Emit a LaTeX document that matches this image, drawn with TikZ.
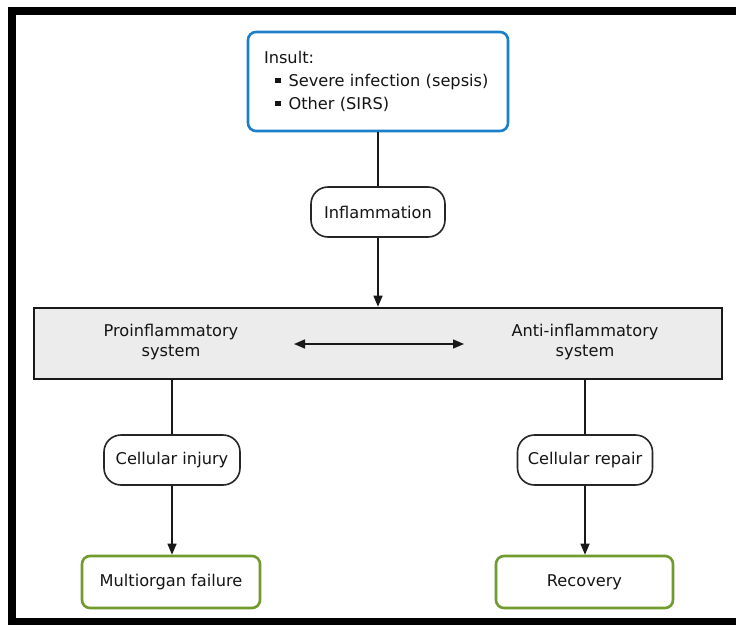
\documentclass[tikz,border=0pt]{standalone}
\usepackage{fontspec}
\setmainfont{DejaVu Sans}
\usetikzlibrary{arrows.meta}
\definecolor{insultblue}{RGB}{28,128,200}
\definecolor{outgreen}{RGB}{112,155,45}
\definecolor{panelgray}{RGB}{236,236,236}
\definecolor{txt}{RGB}{20,20,20}
\begin{document}
\begin{tikzpicture}[x=1pt,y=-1pt,
  font=\fontsize{16.2}{20}\selectfont, text=txt,
  pill/.style={draw=black!85, line width=1.6pt, rounded corners=17pt, fill=white, inner sep=0pt, minimum height=50pt},
  insultbox/.style={draw=insultblue, line width=2.6pt, rounded corners=8pt, fill=white, inner xsep=16pt, inner ysep=0pt, minimum height=99pt, text width=228pt, align=left, font=\fontsize{16.2}{23}\selectfont},
  outbox/.style={draw=outgreen, line width=2.6pt, rounded corners=8pt, fill=white, inner sep=0pt, minimum height=52pt},
  panel/.style={draw=black!90, line width=2.6pt, fill=panelgray, inner sep=0pt},
  conn/.style={line width=1.4pt, draw=black!90},
  arr/.style={conn, -{Triangle[length=11pt,width=9pt]}},
  darr/.style={conn, {Triangle[length=11pt,width=9pt]}-{Triangle[length=11pt,width=9pt]}}]
\useasboundingbox (0,0) rectangle (736,624);
\clip (0,0) rectangle (736,624);
\fill[white] (0,0) rectangle (736,624);
\draw[line width=8pt] (12,11) rectangle (780,622);

\node[insultbox] (insult) at (378,81.5) {Insult:\\
\hspace*{11pt}\rule[3.5pt]{5.5pt}{5.5pt}\hspace*{8pt}Severe infection (sepsis)\\
\hspace*{11pt}\rule[3.5pt]{5.5pt}{5.5pt}\hspace*{8pt}Other (SIRS)};
\node[pill, minimum width=134pt] (infl) at (378,212) {Inflammation};
\node[panel, minimum width=688pt, minimum height=71pt] (panel) at (378,343.5) {};
\node[align=center] (pro) at (171,342) {Proinflammatory\\system};
\node[align=center] (anti) at (585,342) {Anti-inflammatory\\system};
\coordinate (dl) at (294,344);
\coordinate (dr) at (464,344);
\node[pill, minimum width=136pt] (inj) at (172,460) {Cellular injury};
\node[pill, minimum width=135pt] (rep) at (585,460) {Cellular repair};
\node[outbox, minimum width=178pt] (mof) at (171,582) {Multiorgan failure};
\node[outbox, minimum width=177pt] (rec) at (584.5,582) {Recovery};

\draw[conn] (insult.south) -- (infl.north);
\draw[arr] (infl.south) -- (panel.north);
\draw[darr] (dl) -- (dr);
\draw[conn] (inj.north |- panel.south) -- (inj.north);
\draw[conn] (rep.north |- panel.south) -- (rep.north);
\draw[arr] (inj.south) -- (inj.south |- mof.north);
\draw[arr] (rep.south) -- (rep.south |- rec.north);
\end{tikzpicture}
\end{document}
